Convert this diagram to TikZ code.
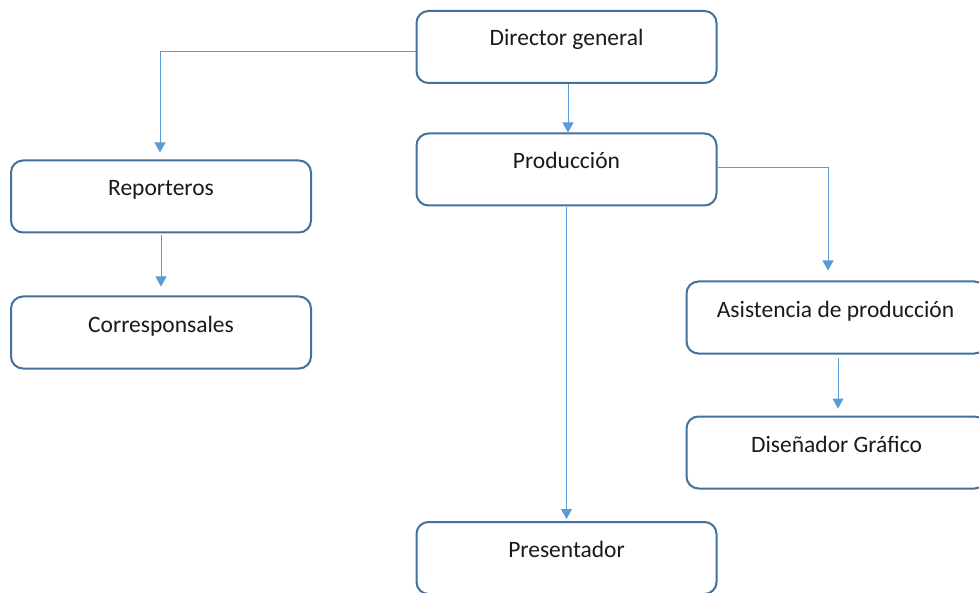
\documentclass[tikz,border=0pt]{standalone}
\usepackage{fontspec}
\setmainfont{Carlito}
\usetikzlibrary{arrows.meta}
\definecolor{boxline}{HTML}{41719C}
\definecolor{conn}{HTML}{5B9BD5}
\definecolor{txt}{HTML}{1A1A1A}
\tikzset{
  orgbox/.style={draw=boxline, line width=2pt, rounded corners=12pt, fill=white,
    minimum width=300pt, minimum height=72pt, inner sep=0pt},
  lbl/.style={anchor=base, inner sep=0pt, text=txt, font=\fontsize{23.5}{28}\selectfont},
  link/.style={draw=conn, line width=1pt, -{Triangle[width=11pt,length=10pt]}},
}
\begin{document}
\begin{tikzpicture}[x=1pt,y=-1pt]
\useasboundingbox (0,0) rectangle (979,593);
\clip (0,0) rectangle (979,593);
\node[orgbox] (dir)  at (566.5,47)   {};
\node[orgbox] (prod) at (566.5,169.5) {};
\node[orgbox] (rep)  at (161,196.5)  {};
\node[orgbox] (cor)  at (161,332.5)  {};
\node[orgbox] (asis) at (836.5,317.5) {};
\node[orgbox] (dis)  at (836.5,452.5) {};
\node[orgbox] (pres) at (566.5,558)  {};
\node[lbl] (tdir)  at ([yshift=-36pt]dir.north)  {Director general};
\node[lbl] (tprod) at ([yshift=-36.5pt]prod.north) {Producción};
\node[lbl] (trep)  at ([yshift=-36.5pt]rep.north)  {Reporteros};
\node[lbl] (tcor)  at ([yshift=-36.5pt]cor.north)  {Corresponsales};
\node[lbl] (tasis) at ([xshift=-1pt,yshift=-36.5pt]asis.north) {Asistencia de producción};
\node[lbl] (tdis)  at ([yshift=-36.5pt]dis.north)  {Diseñador Gráfico};
\node[lbl] (tpres) at ([yshift=-36.5pt]pres.north) {Presentador};
\coordinate (c1) at ([yshift=-5pt]dir.west);
\coordinate (c2) at ([xshift=-1pt,yshift=7pt]rep.north);
\draw[link] (c1) -| (c2);
\draw[link] ([xshift=1.5pt]dir.south) -- ([xshift=1.5pt]prod.north);
\coordinate (c3) at ([yshift=1.5pt]prod.east);
\coordinate (c4) at ([xshift=-8.5pt,yshift=10pt]asis.north);
\draw[link] (c3) -| (c4);
\draw[link] ([yshift=-1pt]prod.south) -- ([yshift=2pt]pres.north);
\draw[link] ([yshift=-2pt]rep.south) -- ([yshift=9pt]cor.north);
\draw[link] ([xshift=1.5pt,yshift=-3pt]asis.south) -- ([xshift=1.5pt,yshift=7pt]dis.north);
\end{tikzpicture}
\end{document}
